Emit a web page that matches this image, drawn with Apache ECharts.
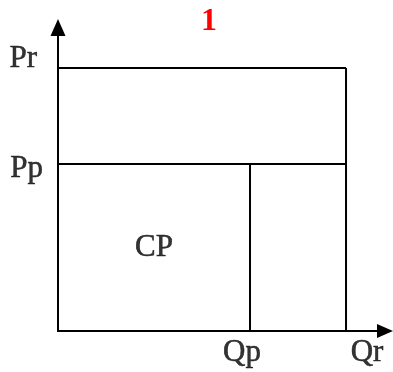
<!DOCTYPE html>
<html>
<head>
<meta charset="utf-8">
<script src="https://cdn.jsdelivr.net/npm/echarts@6/dist/echarts.min.js"></script>
<style>
  html, body { margin: 0; padding: 0; background: #fff; }
  #chart { width: 393px; height: 372px; }
</style>
</head>
<body>
<div id="chart"></div>
<script>
// quantities on the x axis, prices on the y axis
const qNames = ['Qp', 'Qr'];
const qValues = [2, 3];
const pNames = ['Pp', 'Pr'];
const pValues = [2, 3.15];
const areaLabel = 'CP';
const areaPoint = [1, 1];
const title = '1';

const chart = echarts.init(document.getElementById('chart'));

const Qp = qValues[0], Qr = qValues[1];
const Pp = pValues[0], Pr = pValues[1];

const font = '"Liberation Serif", "Times New Roman", serif';
const lineStyle = { color: '#000', width: 2 };

function seg(points) {
    return {
        type: 'line',
        data: points,
        symbol: 'none',
        lineStyle: lineStyle,
        silent: true,
        animation: false
    };
}

// label offsets (pixels) kept apart from the values
const pOffsets = [[-15, 5], [-21, -9]];
const qOffsets = [[-8, 22], [21, 22]];

const labelData = [];
pNames.forEach((n, i) => labelData.push({
    value: [0, pValues[i]], name: n,
    label: { offset: pOffsets[i], align: 'right' }
}));
qNames.forEach((n, i) => labelData.push({
    value: [qValues[i], 0], name: n,
    label: { offset: qOffsets[i], align: 'center' }
}));
labelData.push({ value: areaPoint, name: areaLabel, label: { offset: [0, 0], align: 'center' } });

const option = {
    animation: false,
    title: {
        text: title,
        left: 201,
        top: 6,
        padding: 0,
        textStyle: { color: '#ff0000', fontFamily: font, fontWeight: 'bold', fontSize: 32 }
    },
    grid: { left: 58, right: 8, top: 27.5, bottom: 41, containLabel: false },
    xAxis: {
        type: 'value', min: 0, max: 3.406,
        axisLine: {
            show: true, onZero: false,
            lineStyle: { color: '#000', width: 2 },
            symbol: ['none', 'triangle'], symbolSize: [14, 16]
        },
        axisTick: { show: false }, axisLabel: { show: false }, splitLine: { show: false }
    },
    yAxis: {
        type: 'value', min: 0, max: 3.635,
        axisLine: {
            show: true, onZero: false,
            lineStyle: { color: '#000', width: 2 },
            symbol: ['none', 'triangle'], symbolSize: [15, 17]
        },
        axisTick: { show: false }, axisLabel: { show: false }, splitLine: { show: false }
    },
    series: [
        seg([[0, Pr], [Qr, Pr]]),
        seg([[0, Pp], [Qr, Pp]]),
        seg([[Qp, 0], [Qp, Pp]]),
        seg([[Qr, 0], [Qr, Pr]]),
        {
            type: 'scatter',
            symbolSize: 0,
            silent: true,
            data: labelData,
            label: {
                show: true,
                position: 'inside',
                formatter: p => p.name,
                color: '#000',
                fontFamily: font,
                fontSize: 31,
                verticalAlign: 'middle',
                textBorderColor: '#000',
                textBorderWidth: 0.5
            }
        }
    ]
};

chart.setOption(option);
</script>
</body>
</html>
